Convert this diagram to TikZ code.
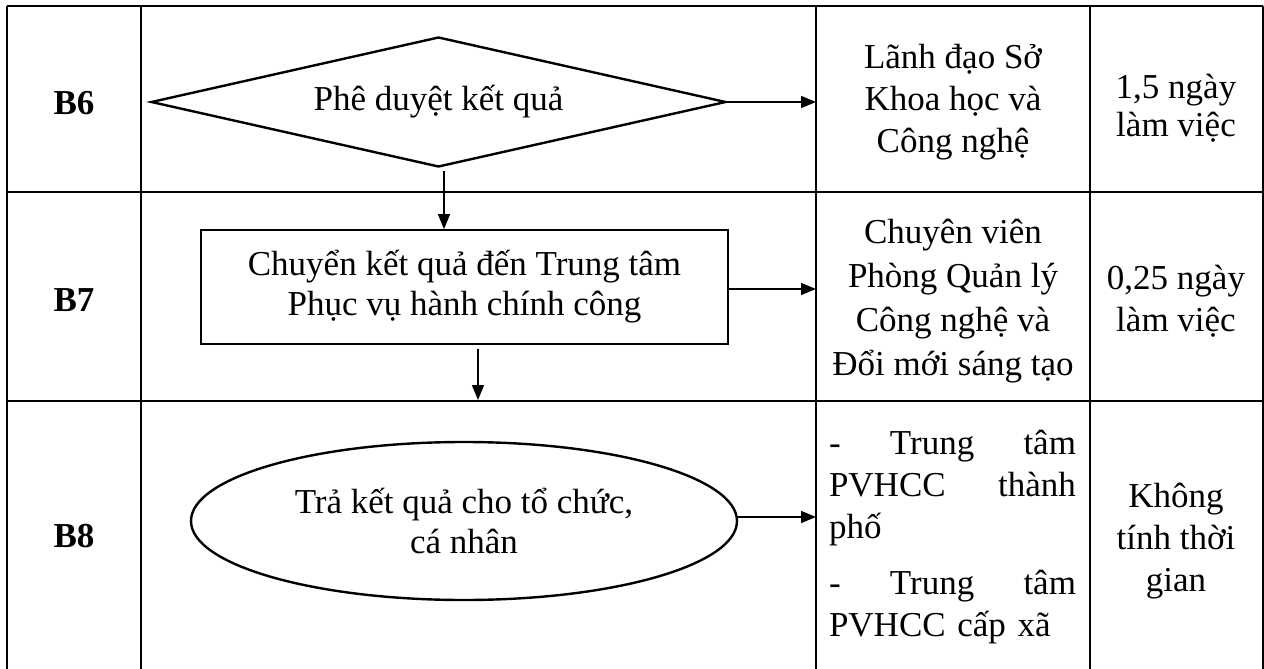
\documentclass[tikz,border=0pt]{standalone}
\usepackage{fontspec}
\setmainfont{Liberation Serif}
\usetikzlibrary{shapes.geometric,arrows.meta}
\begin{document}
\begin{tikzpicture}[x=1pt,y=-1pt,
  grid/.style={line width=1.6pt},
  shapeline/.style={draw, line width=2.4pt, inner sep=0pt, align=center, font=\fontsize{35}{40}\selectfont},
  conn/.style={line width=1.6pt, -{Triangle[length=15pt,width=12pt]}},
  txt/.style={align=center, inner sep=0pt, font=\fontsize{35}{42}\selectfont},
  lbl/.style={font=\fontsize{35}{42}\selectfont\bfseries, inner sep=0pt}]
\useasboundingbox (0,0) rectangle (1264,669);
\fill[white] (0,0) rectangle (1264,669);
% table grid
\draw[grid] (7,6) -- (1263,6);
\draw[grid] (7,192) -- (1263,192);
\draw[grid] (7,401) -- (1263,401);
\foreach \x in {7,141,816,1090,1263} \draw[grid] (\x,6) -- (\x,669);
% step labels
\node[lbl] (b6) at (74,103) {B6};
\node[lbl] (b7) at (74,300) {B7};
\node[lbl] (b8) at (74,536) {B8};
% flow shapes
\node[shapeline, diamond, aspect=4.42, minimum width=575pt, minimum height=130pt] (d6) at (438.5,102) {Phê duyệt kết quả};
\node[shapeline, rectangle, line width=1.8pt, minimum width=527pt, minimum height=114pt] (r7) at (464.5,287) {Chuyển kết quả đến Trung tâm\\Phục vụ hành chính công};
\node[shapeline, ellipse, minimum width=546pt, minimum height=158pt] (e8) at (464,521) {Trả kết quả cho tổ chức,\\cá nhân};
% responsible
\node[txt] (p6) at (953,102) {Lãnh đạo Sở\\Khoa học và\\Công nghệ};
\node[txt, font=\fontsize{35}{44}\selectfont] (p7) at (953,301) {Chuyên viên\\Phòng Quản lý\\Công nghệ và\\Đổi mới sáng tạo};
\node[txt, text width=247pt, align=left] (p8) at (952.5,537) {\makebox[247pt]{-\hfill Trung\hfill tâm}\\\makebox[247pt]{PVHCC\hfill thành}\\phố\\[14pt]\makebox[247pt]{-\hfill Trung\hfill tâm}\\PVHCC cấp xã};
% time
\node[txt, font=\fontsize{35}{38}\selectfont] (t6) at (1176,108) {1,5 ngày\\làm việc};
\node[txt] (t7) at (1176,301) {0,25 ngày\\làm việc};
\node[txt] (t8) at (1176,541) {Không\\tính thời\\gian};
% connectors
\coordinate (s6) at ([shift={(5.5,3)}]d6.south);
\coordinate (s7) at ([shift={(13.5,4)}]r7.south);
\coordinate (a6) at (816,102);
\coordinate (a7) at (816,289);
\coordinate (a8) at (816,517);
\draw[conn] (d6.east) -- (a6);
\draw[conn] (s6) -- (s6 |- r7.north);
\draw[conn] (r7.east |- a7) -- (a7);
\draw[conn] (s7) -- (s7 |- 0,400);
\draw[conn] (e8.east |- a8) -- (a8);
\end{tikzpicture}
\end{document}
